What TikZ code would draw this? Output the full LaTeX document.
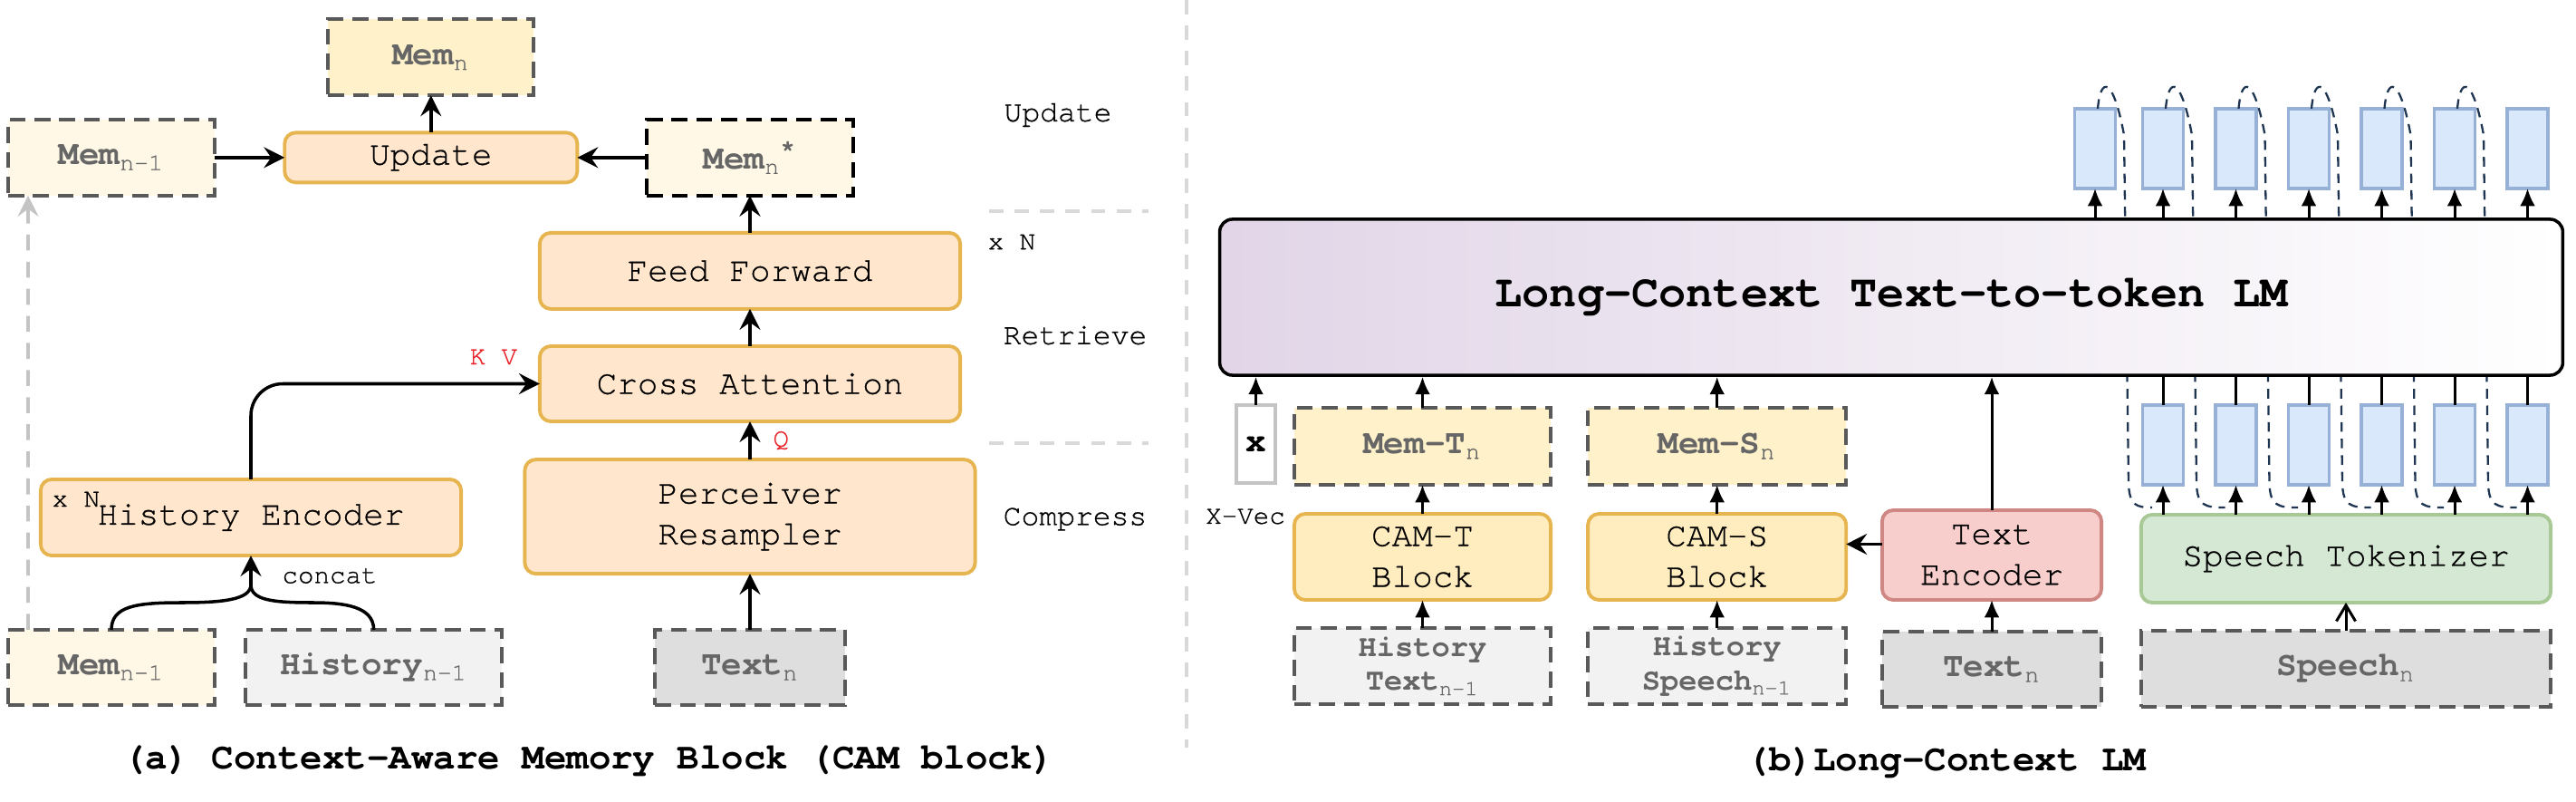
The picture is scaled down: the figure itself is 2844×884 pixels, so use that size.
\documentclass[tikz,border=0pt]{standalone}
\usepackage{fontspec}
\setmainfont{texgyrecursor}[Extension=.otf, UprightFont=*-regular, BoldFont=*-bold, ItalicFont=*-italic, BoldItalicFont=*-bolditalic, UprightFeatures={FakeBold=0.6}]
\usetikzlibrary{positioning,arrows.meta}

\definecolor{peach}{HTML}{FFE6CC}
\definecolor{gold}{HTML}{E6B54F}
\definecolor{memyel}{HTML}{FFF1C9}
\definecolor{memlt}{HTML}{FFF8E7}
\definecolor{histgray}{HTML}{F2F2F2}
\definecolor{txtgray}{HTML}{DEDEDE}
\definecolor{dashgray}{HTML}{595959}
\definecolor{labgray}{HTML}{666666}
\definecolor{sepgray}{HTML}{D9D9D9}
\definecolor{camyel}{HTML}{FFEDBF}
\definecolor{encred}{HTML}{F8CECC}
\definecolor{encline}{HTML}{CF8784}
\definecolor{tokgreen}{HTML}{D5E8D4}
\definecolor{tokline}{HTML}{A8C996}
\definecolor{tokblue}{HTML}{DAE8FC}
\definecolor{tokbline}{HTML}{97B0D6}
\definecolor{lmpurple}{HTML}{E1D5E7}
\definecolor{fbnavy}{HTML}{1F3552}
\definecolor{kvred}{HTML}{E8242A}
\definecolor{xgray}{HTML}{C4C4C4}

\newcommand{\lsub}[1]{\textsubscript{\mdseries #1}}
\newcommand{\fntbox}{\fontsize{10.7}{12.8}\selectfont}
\newcommand{\fnthist}{\fontsize{9.6}{10.6}\selectfont}
\newcommand{\fntsmall}{\fontsize{8.3}{10}\selectfont}
\newcommand{\fntstage}{\fontsize{9.4}{11}\selectfont}
\newcommand{\fnttitle}{\fontsize{14.3}{17}\selectfont}
\newcommand{\fntcap}{\fontsize{11.6}{14}\selectfont}

\begin{document}
\begin{tikzpicture}[x=0.01cm,y=0.01cm,node distance=0.41cm,
	blk/.style={draw=gold,fill=peach,line width=1.1pt,rounded corners=3.5pt,font=\fntbox,align=center,inner sep=0pt,outer sep=0pt},
	dbox/.style={draw=dashgray,dash pattern=on 5pt off 2.8pt,line width=1.15pt,font=\fntbox\bfseries,text=labgray,align=center,inner sep=0pt,outer sep=0pt},
	arr/.style={-{Stealth[length=6.5pt,width=6.5pt,inset=2.3pt]},line width=1pt},
	arb/.style={-{Latex[length=5.5pt,width=4.8pt]},line width=0.85pt},
	sep/.style={draw=sepgray,line width=1.3pt,dash pattern=on 4.5pt off 3.5pt},
	tok/.style={draw=tokbline,fill=tokblue,line width=1.1pt,minimum width=0.45cm,minimum height=0.88cm,inner sep=0pt,outer sep=0pt},
	fb/.style={draw=fbnavy,line width=0.65pt,dash pattern=on 3pt off 2.2pt}]
	
	\useasboundingbox (0,0) rectangle (2844,884);
	
	% (a) the CAM block: retrieve stack in the middle
	\node[blk,minimum width=4.64cm,minimum height=0.83cm] (ca) at (828,460.5) {Cross Attention};
	\node[blk,minimum width=4.64cm,minimum height=0.84cm] (ff) [above = of ca] {Feed Forward};
	\node[dbox,draw=black,fill=memlt,minimum width=2.27cm,minimum height=0.84cm] (memstar) [above = of ff] {Mem\lsub{n}\textsuperscript{*}};
	\node[blk,minimum width=3.23cm,minimum height=0.55cm] (upd) [left = 0.77cm of memstar] {Update};
	\node[dbox,fill=memyel,minimum width=2.27cm,minimum height=0.84cm] (memn) [above = of upd] {Mem\lsub{n}};
	\node[dbox,fill=memlt,minimum width=2.28cm,minimum height=0.84cm] (memtop) [left = 0.77cm of upd] {Mem\lsub{n-1}};
	\node[blk,minimum width=4.97cm,minimum height=1.26cm] (pr) [below = 0.42cm of ca] {Perceiver\\Resampler};
	\node[dbox,fill=txtgray,minimum width=2.09cm,minimum height=0.83cm] (textn) [below = 0.62cm of pr] {Text\lsub{n}};
	
	% history branch on the left
	\node[blk,minimum width=4.64cm,minimum height=0.84cm] (he) at (277,313) {History Encoder};
	\node[font=\fntsmall,anchor=north west,inner sep=0pt] (hexn) at ([shift={(0.12cm,-0.13cm)}]he.north west) {x N};
	\node[dbox,fill=memlt,minimum width=2.28cm,minimum height=0.83cm] (membot) at (123,147.5) {Mem\lsub{n-1}};
	\node[dbox,fill=histgray,minimum width=2.83cm,minimum height=0.83cm] (hist) [right = 0.34cm of membot] {History\lsub{n-1}};
	\coordinate[below = 0.32cm of he] (cat);
	
	% stage names and separators
	\node[font=\fntstage] (lupd) at (1168,757) {Update};
	\node[font=\fntsmall] (lxn) at (1117,617) {x N};
	\node[font=\fntstage] (lret) at (1187,514) {Retrieve};
	\node[font=\fntstage] (lcomp) at (1187,311) {Compress};
	\draw[sep] (1092,651) -- (1268,651);
	\draw[sep] (1092,395) -- (1268,395);
	\draw[sep] (1310,884) -- (1310,59);
	
	\draw[arr] (upd) -- (memn);
	\draw[arr] (memtop) -- (upd);
	\draw[arr] (memstar) -- (upd);
	\draw[arr] (ff) -- (memstar);
	\draw[arr] (ca) -- (ff);
	\draw[arr] (pr) -- node[right=0.12cm,text=kvred,font=\fntsmall] {Q} (ca);
	\draw[arr] (textn) -- (pr);
	\draw[arr,rounded corners=10pt] (he) |- node[pos=0.92,above=0.08cm,text=kvred,font=\fntsmall] {K V} (ca);
	\draw[line width=1pt] (membot.north) .. controls (123,215) and (150,219) .. (200,219) .. controls (245,219) and (277,222) .. (cat);
	\draw[line width=1pt] (hist.north) .. controls (412.5,215) and (380,219) .. (345,219) .. controls (300,219) and (277,222) .. (cat);
	\draw[arr] (cat) -- node[pos=0.3,right=0.21cm,font=\fntsmall] {concat} (he);
	\draw[draw=xgray,line width=1.1pt,dash pattern=on 5pt off 3.5pt,-{Stealth[length=6.5pt,width=6.5pt,inset=2.3pt]}] ([xshift=-0.92cm]membot.north) -- ([xshift=-0.92cm]memtop.south);
	
	\node[font=\fntcap\bfseries] (capa) at (650,44) {(a) Context-Aware Memory Block (CAM block)};
	
	% (b) the long-context LM: token boxes first, feedback lines under the LM
	\foreach \k/\px in {0/2313,1/2388,2/2468.5,3/2549,4/2629.5,5/2710,6/2790.5}
		\node[tok] (up\k) at (\px,720) {};
	\foreach \k/\px in {1/2388,2/2468.5,3/2549,4/2629.5,5/2710,6/2790.5}
		\node[tok] (lo\k) at (\px,393) {};
	\foreach \k/\j/\px in {0/1/2313,1/2/2388,2/3/2468.5,3/4/2549,4/5/2629.5,5/6/2710}
		\draw[fb] ([xshift=0.03cm]up\k.north) .. controls (\px+6,800) and (\px+20,800) .. (\px+32,735) -- (\px+37,350) .. controls (\px+38,326) and (\px+46,324) .. ([shift={(-0.12cm,-0.25cm)}]lo\j.south);
	
	\node[draw=black,line width=1pt,rounded corners=4pt,left color=lmpurple,right color=white,minimum width=14.82cm,minimum height=1.72cm,font=\fnttitle\bfseries] (lm) at (2088,556) {Long-Context Text-to-token LM};
	
	\node[blk,fill=camyel,minimum width=2.83cm,minimum height=0.95cm] (camt) at (1570.5,269.5) {CAM-T\\Block};
	\node[blk,fill=camyel,minimum width=2.85cm,minimum height=0.95cm] (cams) [right = of camt] {CAM-S\\Block};
	\node[dbox,fill=memyel,minimum width=2.83cm,minimum height=0.85cm] (memt) [above = 0.32cm of camt] {Mem-T\lsub{n}};
	\node[dbox,fill=memyel,minimum width=2.85cm,minimum height=0.85cm] (mems) [above = 0.32cm of cams] {Mem-S\lsub{n}};
	\node[dbox,fill=histgray,font=\fnthist\bfseries,minimum width=2.83cm,minimum height=0.84cm] (histt) [below = 0.31cm of camt] {History\\Text\lsub{n-1}};
	\node[dbox,fill=histgray,font=\fnthist\bfseries,minimum width=2.85cm,minimum height=0.84cm] (hists) [below = 0.31cm of cams] {History\\Speech\lsub{n-1}};
	\node[blk,draw=encline,fill=encred,minimum width=2.42cm,minimum height=0.99cm] (tenc) at (2199,271.5) {Text\\Encoder};
	\node[dbox,fill=txtgray,minimum width=2.42cm,minimum height=0.83cm] (textb) [below = 0.35cm of tenc] {Text\lsub{n}};
	\node[blk,draw=tokline,fill=tokgreen,minimum width=4.52cm,minimum height=0.97cm] (stok) at (2590,267.5) {Speech Tokenizer};
	\node[dbox,fill=txtgray,minimum width=4.52cm,minimum height=0.84cm] (speech) [below = 0.31cm of stok] {Speech\lsub{n}};
	\node[draw=xgray,fill=white,line width=1.1pt,minimum width=0.43cm,minimum height=0.86cm,inner sep=0pt,outer sep=0pt,font=\fntbox\bfseries] (xv) at (1386.5,394) {x};
	\node[font=\fntsmall] (lxvec) at (1375,314) {X-Vec};
	
	\draw[arb] (xv) -- (xv |- lm.south);
	\draw[arb] (memt) -- (memt |- lm.south);
	\draw[arb] (mems) -- (mems |- lm.south);
	\draw[arb] (camt) -- (memt);
	\draw[arb] (cams) -- (mems);
	\draw[arb] (histt) -- (camt);
	\draw[arb] (hists) -- (cams);
	\draw[arb] (tenc) -- (tenc |- lm.south);
	\draw[arb] (textb) -- (tenc);
	\draw[arr] ([yshift=0.12cm]tenc.west) -- ([yshift=0.12cm]tenc.west -| cams.east);
	\draw[-{Straight Barb[length=5pt,width=6pt]},line width=0.85pt] (speech) -- (stok);
	\foreach \k in {1,...,6}{
		\draw[arb] (lo\k |- stok.north) -- (lo\k);
		\draw[line width=0.85pt] (lo\k) -- (lo\k |- lm.south);
	}
	\foreach \k in {0,...,6}
		\draw[arb] (up\k |- lm.north) -- (up\k);
	
	\node[font=\fntcap\bfseries] (capb) at (2149,42) {(b)Long-Context LM};
	
\end{tikzpicture}
\end{document}
